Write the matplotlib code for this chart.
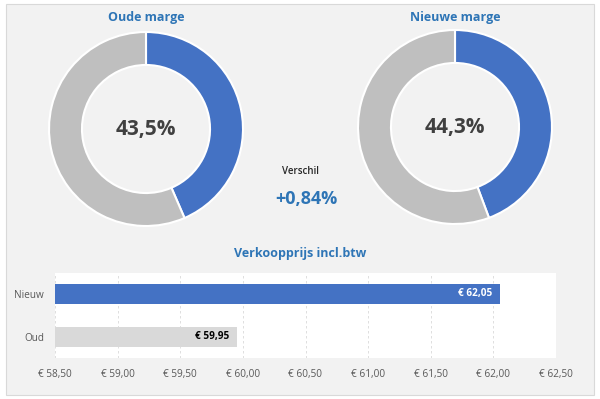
import matplotlib
matplotlib.use("Agg")
import matplotlib.pyplot as plt
from matplotlib.patches import Rectangle

plt.rcParams['font.family'] = ['Open Sans', 'DejaVu Sans']

# Data
donut_titles = ["Oude marge", "Nieuwe marge"]
margins = [43.5, 44.3]
margin_labels = ["43,5%", "44,3%"]
diff_label = "Verschil"
diff_value = "+0,84%"
bar_title = "Verkoopprijs incl.btw"
bar_categories = ["Oud", "Nieuw"]
bar_values = [59.95, 62.05]
bar_value_labels = ["€ 59,95", "€ 62,05"]
xticks = [58.5, 59.0, 59.5, 60.0, 60.5, 61.0, 61.5, 62.0, 62.5]
xtick_labels = ["€ 58,50", "€ 59,00", "€ 59,50", "€ 60,00", "€ 60,50",
                "€ 61,00", "€ 61,50", "€ 62,00", "€ 62,50"]

BLUE = "#4472c4"
GRAY = "#bfbfbf"
TITLE_BLUE = "#2e75b6"

W, H = 600, 399
fig = plt.figure(figsize=(6, 3.99), dpi=100, facecolor="white")

def px(x, y):
    return x / W, 1 - y / H

# panel background
fig.patches.append(Rectangle((6 / W, 1 - 395 / H), 588 / W, 391 / H,
                             transform=fig.transFigure, facecolor="#f2f2f2",
                             edgecolor="#d9d9d9", linewidth=0.8, zorder=-10))

# donuts
centers = [(146, 129), (455, 127)]
R = 97
half = 100
for (cx, cy), title, val, lab in zip(centers, donut_titles, margins, margin_labels):
    ax = fig.add_axes([(cx - half) / W, 1 - (cy + half) / H, 2 * half / W, 2 * half / H])
    ax.pie([val, 100 - val], colors=[BLUE, GRAY], startangle=90, counterclock=False,
           radius=1.0, wedgeprops=dict(width=0.34, edgecolor="white", linewidth=1.5))
    lim = half / R
    ax.set_xlim(-lim, lim)
    ax.set_ylim(-lim, lim)
    ax.set_aspect("auto")
    ax.axis("off")
    ax.text(0, 0, lab, ha="center", va="center", fontsize=15, fontweight="bold",
            color="#404040")
    fig.text(*px(cx, 17), title, ha="center", va="center", fontsize=9,
             fontweight="bold", color=TITLE_BLUE)

fig.text(*px(301, 172), diff_label, ha="center", va="center", fontsize=7,
         color="#262626", fontweight="semibold")
fig.text(*px(306, 199), diff_value, ha="center", va="center", fontsize=13,
         fontweight="bold", color=TITLE_BLUE)

fig.text(*px(300, 254), bar_title, ha="center", va="center", fontsize=9,
         fontweight="bold", color=TITLE_BLUE)

# bar chart
left, right, top, bottom = 55, 556, 273, 358
bax = fig.add_axes([left / W, 1 - bottom / H, (right - left) / W, (bottom - top) / H])
bax.set_facecolor("white")
unit = 43.5
ymin = -21 / unit
ymax = ymin + (bottom - top) / unit
ypos = [0, 1]
colors = ["#d9d9d9", BLUE]
bax.barh(ypos, bar_values, height=20 / unit, color=colors, zorder=3)
bax.set_xlim(xticks[0], xticks[-1])
bax.set_ylim(ymin, ymax)
bax.set_xticks(xticks)
bax.set_xticklabels(xtick_labels)
bax.set_yticks(ypos)
bax.set_yticklabels(bar_categories)
bax.tick_params(length=0, labelsize=7.2, labelcolor="#595959")
bax.tick_params(axis="x", pad=8)
bax.tick_params(axis="y", pad=8)
for s in bax.spines.values():
    s.set_visible(False)
bax.grid(axis="x", color="#d9d9d9", linestyle=(0, (3, 3)), linewidth=0.6, zorder=0)
for y, v, lab, c in zip(ypos, bar_values, bar_value_labels, ["black", "white"]):
    bax.text(v - 0.06, y, lab, ha="right", va="center", fontsize=7.2,
             fontweight="bold", color=c, zorder=4)

fig.savefig("out.png", dpi=100, facecolor="white")
